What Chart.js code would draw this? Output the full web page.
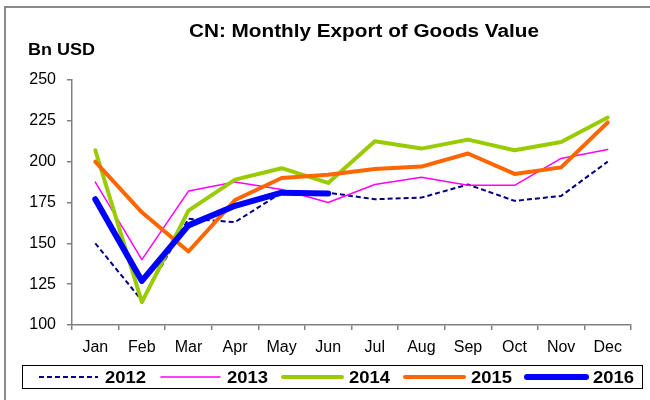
<!DOCTYPE html>
<html>
<head>
<meta charset="utf-8">
<script src="https://cdn.jsdelivr.net/npm/chart.js@4"></script>
<style>
  html, body { margin: 0; padding: 0; background: #fff; }
  #wrap { width: 650px; height: 400px; }
</style>
</head>
<body>
<div id="wrap"><canvas id="chart" width="650" height="400"></canvas></div>
<script>
// Chart values
const months = ['Jan', 'Feb', 'Mar', 'Apr', 'May', 'Jun', 'Jul', 'Aug', 'Sep', 'Oct', 'Nov', 'Dec'];
const yTicks = [100, 125, 150, 175, 200, 225, 250];
const years = ['2012', '2013', '2014', '2015', '2016'];
const v2012 = [150, 115, 165, 163, 181, 181, 177, 178, 186, 176, 179, 200];
const v2013 = [187.5, 140, 182, 187.5, 183, 175, 186, 190.5, 185.5, 185.5, 202, 207.5];
const v2014 = [207, 114, 170, 189, 196, 187, 212.5, 208, 213.5, 207, 212, 227];
const v2015 = [200, 169, 145, 176.5, 190, 192, 195.5, 197, 205, 192.5, 196.5, 224];
const v2016 = [177, 127, 161, 173, 181, 180.5];

const FONT = "'Liberation Sans', Arial, sans-serif";

function series(label, data, color, width, dash, order) {
    return {
        label, data, borderColor: color, backgroundColor: color,
        borderWidth: width, borderDash: dash, order,
        tension: 0, pointRadius: 0, pointHoverRadius: 0, fill: false,
        borderJoinStyle: 'round', borderCapStyle: dash.length ? 'butt' : 'round'
    };
}

// The reference is slightly stretched sideways, so text is squeezed to a target width
function fitText(ctx, text, left, y, width) {
    const w = ctx.measureText(text).width;
    ctx.save();
    ctx.translate(left, y);
    ctx.scale(width / w, 1);
    ctx.textAlign = 'left';
    ctx.fillText(text, 0, 0);
    ctx.restore();
}

// Frame, titles and the boxed legend underneath the plot
const decor = {
    id: 'decor',
    afterDraw(chart) {
        const ctx = chart.ctx;
        ctx.save();
        ctx.strokeStyle = '#8a8a8a';
        ctx.lineWidth = 2;
        ctx.beginPath();
        ctx.moveTo(5, 402); ctx.lineTo(5, 7); ctx.lineTo(652, 7);
        ctx.stroke();

        ctx.fillStyle = '#000';
        ctx.textBaseline = 'middle';
        ctx.font = 'bold 18px ' + FONT;
        fitText(ctx, 'CN: Monthly Export of Goods Value', 189, 32, 350);
        ctx.font = 'bold 17px ' + FONT;
        fitText(ctx, 'Bn USD', 28, 50, 67);

        ctx.strokeStyle = '#000';
        ctx.lineWidth = 1;
        ctx.strokeRect(22.5, 365.5, 620, 23);
        ctx.font = 'bold 17px ' + FONT;
        chart.data.datasets.forEach((ds, i) => {
            const x0 = 39 + i * 122, y = 377;
            ctx.strokeStyle = ds.borderColor;
            ctx.lineWidth = ds.borderWidth;
            ctx.setLineDash(ds.borderDash);
            ctx.lineCap = ds.borderCapStyle;
            ctx.beginPath();
            ctx.moveTo(x0, y); ctx.lineTo(x0 + 59, y);
            ctx.stroke();
            ctx.setLineDash([]);
            ctx.fillStyle = '#000';
            fitText(ctx, ds.label, x0 + 66, y + 1, 41);
        });
        ctx.restore();
    }
};

new Chart(document.getElementById('chart'), {
    type: 'line',
    data: {
        labels: months,
        datasets: [
            series(years[0], v2012, '#000080', 2, [5, 3], 5),
            series(years[1], v2013, '#ff00ff', 1.5, [], 4),
            series(years[2], v2014, '#99cc00', 4, [], 3),
            series(years[3], v2015, '#ff6600', 4, [], 2),
            series(years[4], v2016, '#0000ff', 6, [], 1)
        ]
    },
    options: {
        responsive: false,
        animation: false,
        events: [],
        layout: { padding: { top: 80, left: 0, right: 19, bottom: 0 } },
        plugins: { legend: { display: false }, title: { display: false }, tooltip: { enabled: false } },
        scales: {
            x: {
                offset: true,
                afterFit: s => { s.height = 75; },
                grid: { offset: true, drawOnChartArea: false, tickLength: 5, color: '#808080', lineWidth: 1.5 },
                border: { color: '#808080', width: 1.5 },
                ticks: { color: '#000', padding: 8, font: { family: FONT, size: 16 } }
            },
            y: {
                min: 100,
                max: 250,
                afterFit: s => { s.width = 72; },
                afterBuildTicks: s => { s.ticks = yTicks.map(v => ({ value: v })); },
                grid: { drawOnChartArea: false, tickLength: 5, color: '#808080', lineWidth: 1.5 },
                border: { color: '#808080', width: 1.5 },
                ticks: { color: '#000', padding: 11, font: { family: FONT, size: 16 } }
            }
        }
    },
    plugins: [decor]
});
</script>
</body>
</html>
